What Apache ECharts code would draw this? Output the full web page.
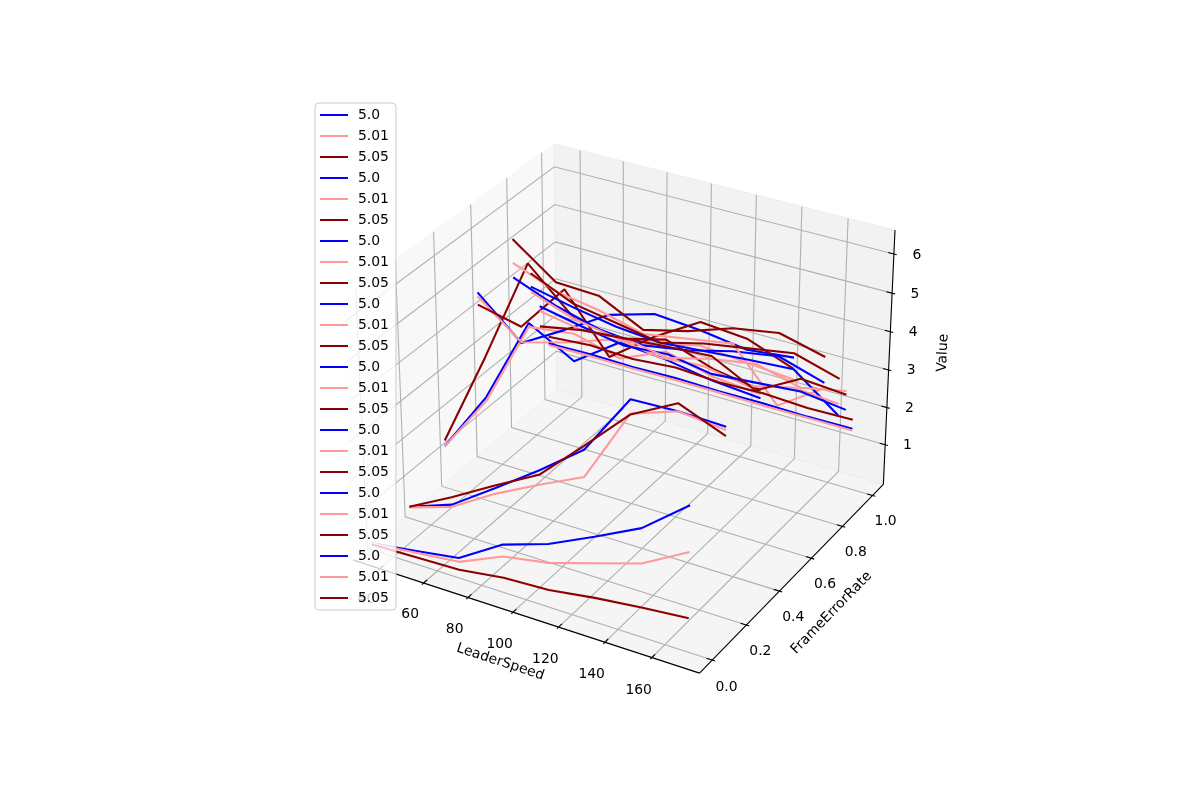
<!DOCTYPE html>
<html>
<head>
<meta charset="utf-8">
<script src="https://cdn.jsdelivr.net/npm/echarts@6/dist/echarts.min.js"></script>
<style>
html, body { margin: 0; padding: 0; background: #fff; }
#charts { width: 1200px; height: 800px; }
</style>
</head>
<body>
<div id="charts"></div>
<script>
// --- data ---
const leaderSpeed = [30, 50, 70, 90, 110, 130, 150, 170];
const frameErrorRate = [0, 0.2, 0.4, 0.6, 0.8, 0.9, 0.95, 1.0];
const runLabels = ['5.0', '5.01', '5.05'];
const runColors = ['#0000ff', '#ff9999', '#8b0000'];

// Value along leaderSpeed, one row per run label
const valuesFer000 = [
    [0.09, 0.27, 0.45, 1.18, 1.57, 2.13, 2.72, 3.66],
    [0.09, 0.22, 0.35, 0.87, 1.08, 1.45, 1.82, 2.49],
    [0.06, 0.10, 0.14, 0.31, 0.37, 0.55, 0.69, 0.80]
];
const valuesFer020 = [
    [0.23, 0.65, 1.45, 2.27, 3.16, 4.78, 4.82, 4.78],
    [0.21, 0.59, 1.30, 1.90, 2.46, 4.42, 4.82, 4.70],
    [0.23, 0.85, 1.52, 2.16, 3.26, 4.40, 5.02, 4.55]
];
const valuesFer040 = [
    [1.05, 2.70, 4.95, 4.30, 5.10, 5.00, 4.80, 4.70],
    [1.05, 2.60, 4.85, 5.00, 4.70, 5.20, 4.90, 4.80],
    [1.20, 3.75, 6.45, 5.40, 5.20, 5.50, 5.10, 4.90]
];
const valuesFer060 = [
    [4.37, 3.36, 4.03, 4.74, 5.08, 4.99, 4.82, 4.95],
    [4.27, 3.38, 3.70, 4.10, 4.30, 4.60, 4.50, 4.40],
    [4.05, 3.79, 5.08, 3.65, 4.50, 5.20, 5.10, 4.67]
];
const valuesFer080 = [
    [4.05, 3.60, 3.30, 3.20, 3.40, 3.70, 3.90, 3.54],
    [4.43, 3.99, 3.80, 3.50, 3.70, 3.90, 2.61, 3.40],
    [5.06, 4.23, 4.18, 3.61, 3.90, 4.30, 4.50, 4.21]
];
const valuesFer090 = [
    [3.44, 3.20, 3.00, 2.90, 3.00, 3.10, 3.18, 2.30],
    [3.30, 2.90, 2.70, 2.50, 2.60, 2.40, 2.70, 2.60],
    [3.80, 3.30, 3.10, 2.90, 3.20, 3.40, 3.60, 3.26]
];
const valuesFer095 = [
    [2.73, 2.50, 2.30, 2.40, 2.20, 2.30, 2.40, 2.25],
    [2.60, 2.40, 2.50, 2.30, 2.60, 2.80, 2.50, 2.75],
    [2.18, 2.40, 2.50, 2.60, 2.68, 2.09, 2.74, 2.65]
];
const valuesFer100 = [
    [1.52, 1.55, 1.53, 1.56, 1.54, 1.55, 1.53, 1.55],
    [1.48, 1.50, 1.49, 1.51, 1.50, 1.49, 1.50, 1.50],
    [1.71, 1.80, 1.75, 1.85, 1.78, 1.82, 1.76, 1.79]
];
const valuesByFer = [valuesFer000, valuesFer020, valuesFer040, valuesFer060,
                     valuesFer080, valuesFer090, valuesFer095, valuesFer100];

const xTicks = [40, 60, 80, 100, 120, 140, 160];
const yTicks = [0, 0.2, 0.4, 0.6, 0.8, 1.0];
const zTicks = [1, 2, 3, 4, 5, 6];
const xLim = [30.9, 177];
const yLim = [-0.05, 1.05];
const zLim = [0.05, 6.47];

// --- matplotlib-like 3d projection (elev 30, azim -60, persp) ---
const lims = [xLim, yLim, zLim];
const aspect = [4, 4, 3].map(a => a * 1.8294640721620434 / Math.hypot(4, 4, 3));
const elev = 30 * Math.PI / 180, azim = -60 * Math.PI / 180, dist = 10;

function dot(a, b) { return a[0] * b[0] + a[1] * b[1] + a[2] * b[2]; }
function cross(a, b) {
    return [a[1] * b[2] - a[2] * b[1], a[2] * b[0] - a[0] * b[2], a[0] * b[1] - a[1] * b[0]];
}
const wv = [Math.cos(elev) * Math.cos(azim), Math.cos(elev) * Math.sin(azim), Math.sin(elev)];
let uv = cross([0, 0, 1], wv);
const un = Math.hypot(uv[0], uv[1], uv[2]);
uv = uv.map(c => c / un);
const vv = cross(wv, uv);

function project(p) {
    const q = p.map((c, i) => (c - lims[i][0]) / (lims[i][1] - lims[i][0]) * aspect[i] - aspect[i] / 2);
    const d = dist - dot(wv, q);
    return [dot(uv, q) / d, dot(vv, q) / d];
}

// box bounds (panes sit a little outside the limits) and deltas
const lo = lims.map(l => l[0] - (l[1] - l[0]) / 48);
const hi = lims.map(l => l[1] + (l[1] - l[0]) / 48);
const dl = lims.map(l => (l[1] - l[0]) / 12);

const panes = [
    { fill: 'rgba(242,242,242,0.5)', pts: [[lo[0], lo[1], lo[2]], [lo[0], hi[1], lo[2]], [lo[0], hi[1], hi[2]], [lo[0], lo[1], hi[2]]] },
    { fill: 'rgba(230,230,230,0.5)', pts: [[lo[0], hi[1], lo[2]], [hi[0], hi[1], lo[2]], [hi[0], hi[1], hi[2]], [lo[0], hi[1], hi[2]]] },
    { fill: 'rgba(236,236,236,0.5)', pts: [[lo[0], lo[1], lo[2]], [hi[0], lo[1], lo[2]], [hi[0], hi[1], lo[2]], [lo[0], hi[1], lo[2]]] }
].map(p => ({ fill: p.fill, pts: p.pts.map(project) }));

const gridLines = [];
xTicks.forEach(t => gridLines.push([[t, lo[1], lo[2]], [t, hi[1], lo[2]], [t, hi[1], hi[2]]]));
yTicks.forEach(t => gridLines.push([[lo[0], t, hi[2]], [lo[0], t, lo[2]], [hi[0], t, lo[2]]]));
zTicks.forEach(t => gridLines.push([[hi[0], hi[1], t], [lo[0], hi[1], t], [lo[0], lo[1], t]]));

const axisLines = [
    [[lo[0], lo[1], lo[2]], [hi[0], lo[1], lo[2]]],
    [[hi[0], lo[1], lo[2]], [hi[0], hi[1], lo[2]]],
    [[hi[0], hi[1], lo[2]], [hi[0], hi[1], hi[2]]]
];
xTicks.forEach(t => axisLines.push([[t, lo[1] - 0.1 * dl[1], lo[2]], [t, lo[1] + 0.2 * dl[1], lo[2]]]));
yTicks.forEach(t => axisLines.push([[hi[0] + 0.1 * dl[0], t, lo[2]], [hi[0] - 0.2 * dl[0], t, lo[2]]]));
zTicks.forEach(t => axisLines.push([[hi[0] + 0.1 * dl[0], hi[1], t], [hi[0] - 0.2 * dl[0], hi[1], t]]));

const lf = 1.3;
const texts = [];
xTicks.forEach(t => texts.push({ p: [t, lo[1] - 0.8 * dl[1], lo[2] - 0.8 * dl[2]], s: String(t), r: 0, dy: 3 }));
yTicks.forEach(t => texts.push({ p: [hi[0] + 0.5 * dl[0], t, lo[2] - 0.8 * dl[2]], s: t.toFixed(1), r: 0, dy: 6 }));
zTicks.forEach(t => texts.push({ p: [hi[0] + 0.42 * dl[0], hi[1] + 0.8 * dl[1], t], s: String(t), r: 0, dy: 8 }));

function edgeAngle(a, b) {
    const pa = project(a), pb = project(b);
    let ang = Math.atan2(pb[1] - pa[1], pb[0] - pa[0]) * 180 / Math.PI;
    ang = (ang + 180) % 180;
    if (ang > 90) ang -= 180;
    return ang;
}
const midX = (lo[0] + hi[0]) / 2, midY = (lo[1] + hi[1]) / 2, midZ = (lo[2] + hi[2]) / 2;
texts.push({ p: [midX, lo[1] - lf * dl[1], lo[2] - lf * dl[2]], s: 'LeaderSpeed', r: edgeAngle(axisLines[0][0], axisLines[0][1]), dy: 0 });
texts.push({ p: [hi[0] + lf * dl[0], midY, lo[2] - lf * dl[2]], s: 'FrameErrorRate', r: edgeAngle(axisLines[1][0], axisLines[1][1]), dy: 1 });
texts.push({ p: [hi[0] + lf * dl[0], hi[1] + lf * dl[1], midZ], s: 'Value', r: edgeAngle(axisLines[2][0], axisLines[2][1]), dy: 0 });
texts.forEach(t => { t.xy = project(t.p); });

const FONT = '13.9px "DejaVu Sans"';

function shapeSeries(list, z, build) {
    return {
        type: 'custom',
        silent: true,
        z: z,
        animation: false,
        dimensions: ['x', 'y', 'i'],
        encode: { x: 0, y: 1 },
        data: list.map((item, i) => [0, 0, i]),
        renderItem: function (params, api) {
            return build(list[params.dataIndex], api);
        }
    };
}

const seriesList = [];
seriesList.push(shapeSeries(panes, 1, (pane, api) => ({
    type: 'polygon',
    shape: { points: pane.pts.map(pt => api.coord(pt)) },
    style: { fill: pane.fill, stroke: pane.fill, lineWidth: 1 }
})));
seriesList.push(shapeSeries(gridLines, 2, (line, api) => ({
    type: 'polyline',
    shape: { points: line.map(pt => api.coord(project(pt))) },
    style: { stroke: '#b0b0b0', lineWidth: 1.1, fill: null }
})));
seriesList.push(shapeSeries(axisLines, 2, (line, api) => ({
    type: 'polyline',
    shape: { points: line.map(pt => api.coord(project(pt))) },
    style: { stroke: '#000', lineWidth: 1.1, fill: null }
})));
seriesList.push(shapeSeries(texts, 2, (t, api) => {
    const c = api.coord(t.xy);
    return {
        type: 'text',
        x: c[0], y: c[1] + t.dy,
        rotation: t.r * Math.PI / 180,
        style: { text: t.s, x: 0, y: 0, align: 'center', verticalAlign: 'middle', font: FONT, fill: '#000' }
    };
}));

const legendNames = [];
frameErrorRate.forEach((fer, g) => {
    runLabels.forEach((label, k) => {
        const name = label + '|' + fer;
        legendNames.push(name);
        seriesList.push({
            type: 'line',
            name: name,
            silent: true,
            z: 3,
            showSymbol: false,
            symbol: 'none',
            animation: false,
            color: runColors[k],
            lineStyle: { width: 2.1, color: runColors[k] },
            data: valuesByFer[g][k].map((v, j) => project([leaderSpeed[j], fer, v]))
        });
    });
});

const myChart = echarts.init(document.getElementById('charts'));
const option = {
    backgroundColor: '#ffffff',
    animation: false,
    grid: { left: 307, top: 96, width: 616, height: 616, show: false },
    xAxis: { type: 'value', min: -0.095, max: 0.09, show: false },
    yAxis: { type: 'value', min: -0.095, max: 0.09, show: false },
    legend: {
        orient: 'vertical',
        left: 315,
        top: 103,
        z: 10,
        data: legendNames,
        formatter: name => name.split('|')[0],
        icon: 'rect',
        itemWidth: 28,
        itemHeight: 2,
        itemGap: 7,
        selectedMode: false,
        textStyle: { fontFamily: 'DejaVu Sans', fontSize: 13.9, color: '#000', lineHeight: 14, padding: [0, 0, 0, 5] },
        backgroundColor: 'rgba(255,255,255,0.8)',
        borderColor: '#cccccc',
        borderWidth: 1,
        borderRadius: 4,
        padding: [5, 7, 5, 5]
    },
    series: seriesList
};
myChart.setOption(option);
</script>
</body>
</html>
